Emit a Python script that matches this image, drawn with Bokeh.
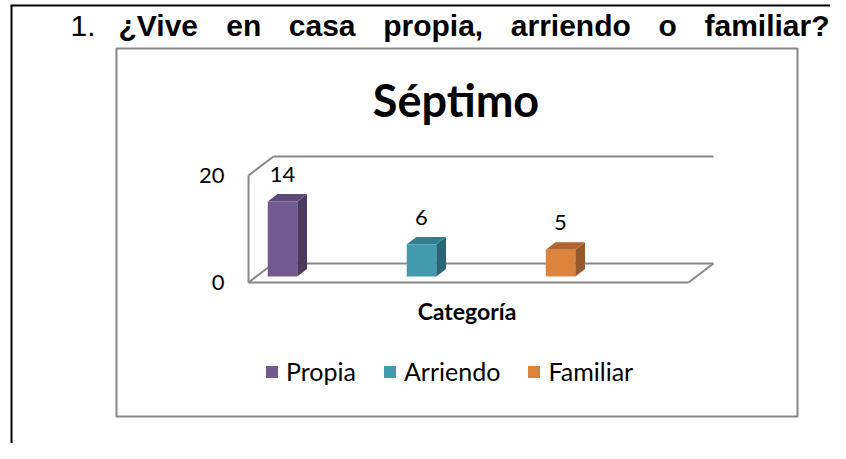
from bokeh.plotting import figure
from bokeh.models import Range1d, Label, Legend, LegendItem, ColumnDataSource, BoxAnnotation
from bokeh.core.properties import value
from bokeh.embed import file_html
from bokeh.resources import INLINE

# ---------------- data ----------------
categories = ["Propia", "Arriendo", "Familiar"]
counts = [14, 6, 5]
tick_values = [0, 20]
tick_labels = ["0", "20"]
heading_number = "1."
heading_words = ["¿Vive", "en", "casa", "propia,", "arriendo", "o", "familiar?"]
chart_title = "Séptimo"
axis_title = "Categoría"

# ---------------- styles ----------------
face_colors = ["#735A8E", "#4399AE", "#DC843E"]
side_colors = ["#4A3A5E", "#2A6677", "#96572A"]
top_colors = ["#5E4A78", "#327C8F", "#AE6530"]
GRAY = "#878787"
FONT = "Lato"

W, H = 830, 443
X0_PX, X_STEP = 282, 139       # canvas x of first category, px per category
Y0_PX, Y_STEP = 282, 5.35      # canvas y of value 0 (front plane), px per unit


def px2x(X):
    return (X - X0_PX) / X_STEP


def px2y(Y):
    return (Y0_PX - Y) / Y_STEP


p = figure(width=W, height=H, output_backend="svg", toolbar_location=None,
           x_range=Range1d(px2x(0), px2x(W)),
           y_range=Range1d(px2y(H), px2y(0)),
           x_axis_type=None, y_axis_type=None, min_border=0,
           outline_line_color=None, background_fill_color="white",
           border_fill_color="white")

# ---------------- page frame ----------------
p.line([px2x(10), px2x(W)], [px2y(5), px2y(5)], line_color="black", line_width=2)
p.line([px2x(11), px2x(11)], [px2y(5), px2y(H)], line_color="black", line_width=2)

# heading (justified words; last one right-aligned)
HEAD_Y = 25
heading_x = [118, 225.7, 288.3, 382.7, 510.3, 658.0, 829]
p.add_layout(Label(x=px2x(70), y=px2y(HEAD_Y), text=heading_number,
                   text_font="Liberation Sans", text_font_size="30px",
                   text_color="black", text_baseline="middle"))
for k, (wx, wtxt) in enumerate(zip(heading_x, heading_words)):
    p.add_layout(Label(x=px2x(wx), y=px2y(HEAD_Y), text=wtxt,
                       text_font="Liberation Sans", text_font_size="30px",
                       text_font_style="bold", text_color="black",
                       text_baseline="middle",
                       text_align="right" if k == len(heading_words) - 1 else "left"))

# chart area box
p.add_layout(BoxAnnotation(left=px2x(116), right=px2x(797), top=px2y(48), bottom=px2y(416),
                           fill_alpha=0, line_color=GRAY, line_alpha=1, line_width=2))

# ---------------- 3D frame (walls / floor) ----------------
DX = 25 / X_STEP
DY = 19 / Y_STEP
xL = px2x(248)
xR = px2x(688)
ymax = tick_values[-1]
frame_xs = [
    [xL, xR],                    # front floor edge
    [xR, xR + DX],               # right floor diagonal
    [xL, xL + DX],               # left floor diagonal
    [xL + DX, xR + DX],          # back floor edge
    [xL, xL],                    # left wall front edge
    [xL, xL + DX],               # left wall top diagonal
    [xL + DX, xR + DX],          # back wall top edge
]
frame_ys = [
    [0, 0],
    [0, DY],
    [0, DY],
    [DY, DY],
    [0, ymax],
    [ymax, ymax + DY],
    [ymax + DY, ymax + DY],
]
p.multi_line(frame_xs, frame_ys, line_color=GRAY, line_width=2)

# ---------------- bars ----------------
F0 = 0.32            # depth of bar front face
FD = 0.39            # bar depth
hw = 14.75 / X_STEP  # half bar width
b = F0 * DY
ddx, ddy = FD * DX, FD * DY

front_xs, front_ys, side_xs, side_ys, top_xs, top_ys = [], [], [], [], [], []
for i, v in enumerate(counts):
    l, r = i - hw, i + hw
    front_xs.append([l, r, r, l])
    front_ys.append([b, b, b + v, b + v])
    side_xs.append([r, r + ddx, r + ddx, r])
    side_ys.append([b, b + ddy, b + v + ddy, b + v])
    top_xs.append([l, r, r + ddx, l + ddx])
    top_ys.append([b + v, b + v, b + v + ddy, b + v + ddy])

p.patches(side_xs, side_ys, fill_color=side_colors, line_color=None)
p.patches(top_xs, top_ys, fill_color=top_colors, line_color=None)
front_r = p.patches(xs="xs", ys="ys", fill_color="color", line_color=None,
                    source=ColumnDataSource(dict(xs=front_xs, ys=front_ys,
                                                 color=face_colors, cat=categories)))

# data labels
lab_src = ColumnDataSource(dict(x=list(range(len(counts))),
                                y=[b + v + 27 / Y_STEP for v in counts],
                                t=[str(v) for v in counts]))
p.text(x="x", y="y", text="t", source=lab_src, text_font=value(FONT),
       text_font_size="22px", text_align="center", text_baseline="middle",
       text_color="black")

# value axis tick labels
tick_src = ColumnDataSource(dict(x=[px2x(224)] * len(tick_values), y=tick_values, t=tick_labels))
p.text(x="x", y="y", text="t", source=tick_src, text_font=value(FONT),
       text_font_size="22px", text_align="right", text_baseline="middle",
       text_color="black")

# titles
p.add_layout(Label(x=px2x(455.5), y=px2y(99), text=chart_title, text_font=FONT,
                   text_font_size="45px", text_font_style="bold", text_align="center",
                   text_baseline="middle", text_color="black"))
p.add_layout(Label(x=px2x(466.5), y=px2y(310.5), text=axis_title, text_font=FONT,
                   text_font_size="23px", text_font_style="bold", text_align="center",
                   text_baseline="middle", text_color="black"))

# legend
legend = Legend(items=[LegendItem(label=c, renderers=[front_r], index=i)
                       for i, c in enumerate(categories)],
                orientation="horizontal", location=(264, 57),
                glyph_width=15, glyph_height=15, label_height=20,
                label_text_font=FONT, label_text_font_size="25px",
                label_text_color="black",
                label_standoff=7, spacing=26, padding=0, margin=0,
                border_line_alpha=0, background_fill_alpha=0)
p.add_layout(legend)

open("out.html", "w").write(file_html(p, INLINE))
